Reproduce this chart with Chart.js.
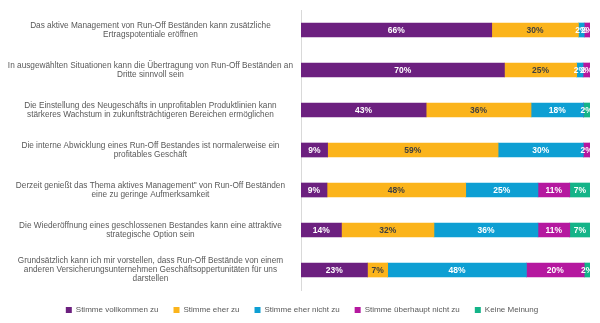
<!DOCTYPE html>
<html>
<head>
<meta charset="utf-8">
<script src="https://cdn.jsdelivr.net/npm/chart.js@4/dist/chart.umd.min.js"></script>
<style>
  html, body { margin: 0; padding: 0; background: #ffffff; }
  #wrap { width: 600px; height: 323px; position: relative; }
</style>
</head>
<body>
<div id="wrap"><canvas id="c"></canvas></div>
<script>
const categories = [
  ["Das aktive Management von Run-Off Beständen kann zusätzliche", "Ertragspotentiale eröffnen"],
  ["In ausgewählten Situationen kann die Übertragung von Run-Off Beständen an", "Dritte sinnvoll sein"],
  ["Die Einstellung des Neugeschäfts in unprofitablen Produktlinien kann", "stärkeres Wachstum in zukunftsträchtigeren Bereichen ermöglichen"],
  ["Die interne Abwicklung eines Run-Off Bestandes ist normalerweise ein", "profitables Geschäft"],
  ["Derzeit genießt das Thema aktives Management\" von Run-Off Beständen", "eine zu geringe Aufmerksamkeit"],
  ["Die Wiederöffnung eines geschlossenen Bestandes kann eine attraktive", "strategische Option sein"],
  ["Grundsätzlich kann ich mir vorstellen, dass Run-Off Bestände von einem", "anderen Versicherungsunternehmen Geschäftsoppertunitäten für uns", "darstellen"]
];
const seriesNames = ["Stimme vollkommen zu", "Stimme eher zu", "Stimme eher nicht zu", "Stimme überhaupt nicht zu", "Keine Meinung"];
const vollkommen   = [66, 70.4, 43.3, 9.2, 9, 14, 23];
const eherZu       = [30, 25, 36.3, 59, 48, 32, 7];
const eherNicht    = [2, 2.2, 18.1, 29.5, 25, 36, 48];
const ueberhaupt   = [2, 2.4, 0, 2.3, 11, 11, 20];
const keineMeinung = [0, 0, 2.3, 0, 7, 7, 2];

const colors = ["#6c207f", "#fbb41c", "#0e9fd3", "#b5189f", "#14b488"];
const labelColors = ["#ffffff", "#404040", "#ffffff", "#ffffff", "#ffffff"];
const seriesData = [vollkommen, eherZu, eherNicht, ueberhaupt, keineMeinung];

const barLabels = {
  id: 'barLabels',
  afterDatasetsDraw(chart) {
    const ctx = chart.ctx;
    ctx.save();
    ctx.font = 'bold 8.5px "Liberation Sans", Arial, sans-serif';
    ctx.textAlign = 'center';
    ctx.textBaseline = 'middle';
    chart.data.datasets.forEach((ds, di) => {
      const meta = chart.getDatasetMeta(di);
      meta.data.forEach((el, i) => {
        const v = ds.data[i];
        if (!(v > 0)) return;
        const cx = (el.x + el.base) / 2;
        ctx.fillStyle = labelColors[di];
        ctx.fillText(Math.round(v) + '%', cx, el.y + 0.5);
      });
    });
    ctx.restore();
  }
};

const legendShift = {
  id: 'legendShift',
  afterLayout(chart) {
    const lg = chart.legend;
    if (!lg) return;
    lg.left += 5; lg.right += 5;
    lg.top += 1; lg.bottom += 1;
  }
};

new Chart(document.getElementById('c'), {
  type: 'bar',
  data: {
    labels: categories,
    datasets: seriesNames.map((n, i) => ({
      label: n,
      data: seriesData[i],
      backgroundColor: colors[i],
      borderWidth: 0,
      barThickness: 14
    }))
  },
  options: {
    indexAxis: 'y',
    responsive: true,
    maintainAspectRatio: false,
    animation: false,
    layout: { padding: { top: 10, right: 10, left: 4, bottom: 0 } },
    scales: {
      x: {
        stacked: true,
        min: 0,
        max: 100,
        display: false
      },
      y: {
        stacked: true,
        grid: { display: false, drawTicks: false },
        border: { display: true, color: '#d9d9d9', width: 1 },
        afterFit(scale) {
          scale.width = 297;
          scale.paddingTop = 0;
          scale.paddingBottom = 0;
        },
        ticks: {
          crossAlign: 'center',
          padding: 8,
          color: '#595959',
          font: { family: '"Liberation Sans", Arial, sans-serif', size: 8.25, lineHeight: 1.1 }
        }
      }
    },
    plugins: {
      legend: {
        position: 'bottom',
        labels: {
          boxWidth: 6,
          boxHeight: 6,
          padding: 15,
          color: '#595959',
          font: { family: '"Liberation Sans", Arial, sans-serif', size: 8 }
        }
      },
      tooltip: { enabled: false }
    }
  },
  plugins: [barLabels, legendShift]
});
</script>
</body>
</html>
